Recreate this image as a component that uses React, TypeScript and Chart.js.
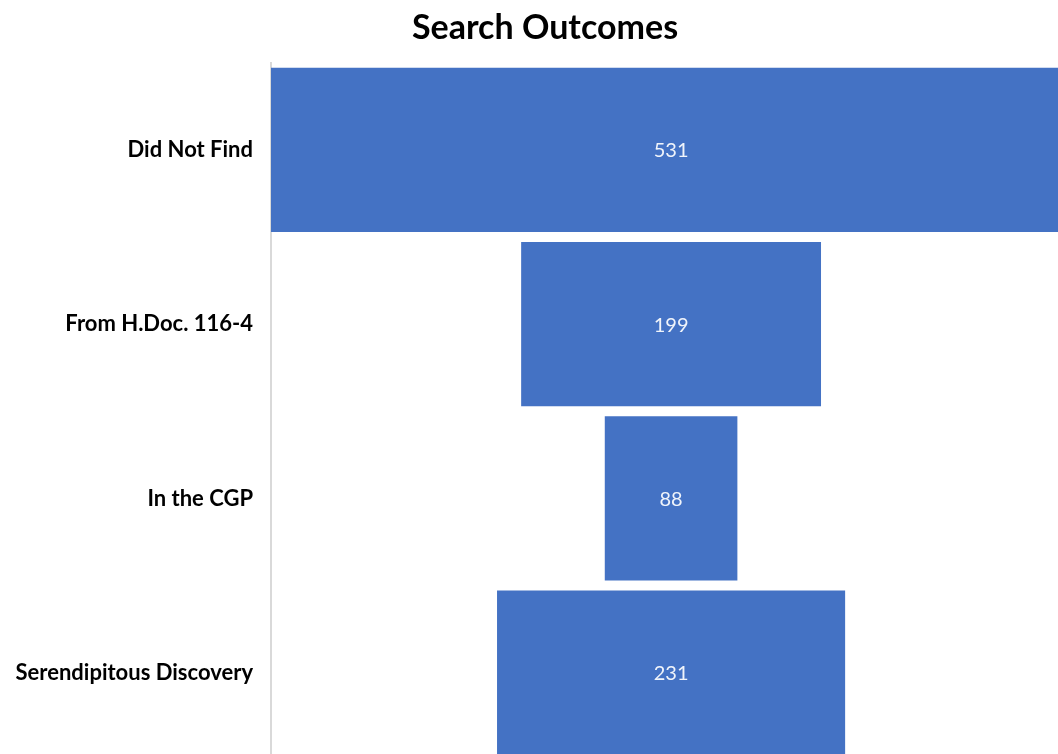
import React, { useEffect, useRef } from "react";
import { Chart, registerables } from "chart.js";

Chart.register(...registerables);

const title = "Search Outcomes";
const categories = ["Did Not Find", "From H.Doc. 116-4", "In the CGP", "Serendipitous Discovery"];
const counts = [531, 199, 88, 231];
const axisMax = 278;
const barColor = "#4472C4";

const valueLabels = {
  id: "valueLabels",
  afterDatasetsDraw(chart: any) {
    const ctx = chart.ctx;
    const meta = chart.getDatasetMeta(0);
    ctx.save();
    ctx.fillStyle = "rgba(255,255,255,0.92)";
    ctx.font = "20px Lato";
    ctx.textAlign = "center";
    ctx.textBaseline = "middle";
    meta.data.forEach((el: any, i: number) => {
      const p = el.getProps(["base", "x", "y"], true);
      const cx = (p.base + p.x) / 2;
      ctx.fillText(String(counts[i]), cx, p.y + 1);
    });
    ctx.restore();
  },
};

export default function App() {
  const ref = useRef<HTMLCanvasElement | null>(null);
  useEffect(() => {
    if (!ref.current) return;
    const half = Math.max(...counts) / 2;
    const chart = new Chart(ref.current, {
      type: "bar",
      data: {
        labels: categories,
        datasets: [
          {
            data: counts.map((v) => [-v / 2, v / 2]) as any,
            backgroundColor: barColor,
            borderWidth: 0,
            barPercentage: 0.943,
            categoryPercentage: 1,
          },
        ],
      },
      options: {
        indexAxis: "y",
        animation: false,
        responsive: false,
        devicePixelRatio: 1,
        layout: { padding: { left: 0, right: 0, top: 0, bottom: 11 } },
        plugins: {
          legend: { display: false },
          tooltip: { enabled: false },
          title: {
            display: true,
            text: title,
            color: "#000000",
            font: { family: "Lato", size: 34, weight: "bold", lineHeight: 1.2 },
            padding: { top: 8, bottom: 14 },
          },
        },
        scales: {
          x: {
            display: false,
            min: -half,
            max: axisMax,
          },
          y: {
            grid: { display: false },
            border: { display: true, color: "#d9d9d9", width: 2 },
            ticks: {
              color: "#000000",
              padding: 10,
              font: { family: "Lato", size: 22, weight: "bold" },
            },
            afterFit: (s: any) => {
              s.width = 271;
            },
          },
        },
      },
      plugins: [valueLabels],
    });
    return () => chart.destroy();
  }, []);

  return (
    <div
      style={{
        position: "fixed",
        left: 0,
        top: 0,
        width: 1058,
        height: 754,
        overflow: "hidden",
        background: "#ffffff",
      }}
    >
      <canvas ref={ref} width={1090} height={783} style={{ display: "block" }} />
    </div>
  );
}
